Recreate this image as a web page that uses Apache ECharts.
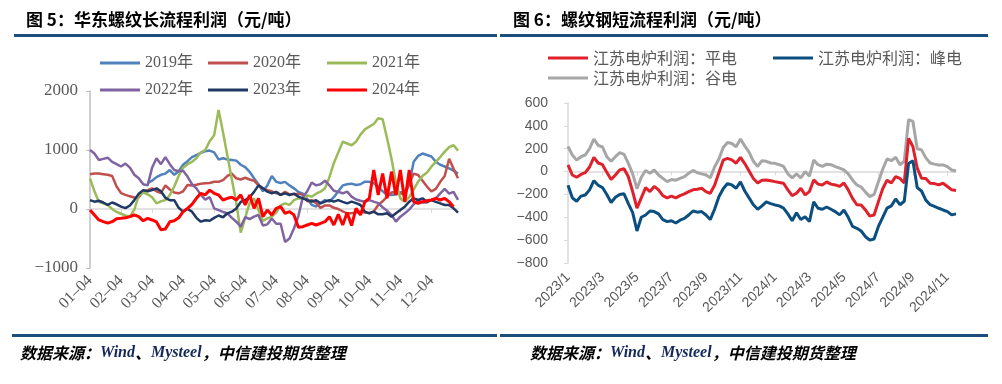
<!DOCTYPE html>
<html><head><meta charset="utf-8">
<script src="https://cdn.jsdelivr.net/npm/echarts@6/dist/echarts.min.js"></script>
<style>html,body{margin:0;padding:0;background:#fff}#c{width:1002px;height:384px}</style>
</head><body><div id="c"></div>
<script>
// ---------- Left chart (图5) ----------
const monthsL = ['01','02','03','04','05','06','07','08','09','10','11','12'];
const daysL = ['04','08','12','16','20','24','28'];
const tickLabelsL = ['01-04','02-04','03-04','04-04','05-04','06-04','07-04','08-04','09-04','10-04','11-04','12-04'];
const categoriesL = [];
monthsL.forEach(m => daysL.forEach(d => categoriesL.push(m + '-' + d)));

const y2019 = [null,null,null,null,null,null,null,null,null,null,null,null,null,
 440,480,540,580,600,660,580,640,750,810,880,915,950,980,990,960,840,860,
 840,830,820,750,710,630,520,420,300,400,560,460,440,460,400,350,290,260,170,70,
 40,100,150,124,200,300,400,420,430,407,420,463,460,435,380,300,240,237,250,280,
 300,420,800,900,940,915,890,800,750,720,690,650,600];
const y2020 = [590,600,600,590,580,560,380,270,240,215,
 195,200,300,320,350,300,270,400,330,280,
 266,300,407,400,410,430,435,440,463,460,
 490,560,600,520,500,530,500,480,400,350,
 320,300,270,240,290,250,250,260,240,130,
 150,100,20,60,60,20,0,-40,-73,-70,
 -60,-45,-60,-70,-40,68,130,210,280,294,
 270,240,420,600,576,480,380,300,340,460,
 560,850,680,520];
const y2021 = [520,300,120,96,68,0,-50,-80,-110,-130,
 -10,230,280,250,200,96,130,150,237,380,
 560,700,760,800,860,960,1000,1150,1250,1680,
 1300,900,500,100,-400,-150,100,180,-20,-200,
 -160,-130,-60,60,96,70,150,181,180,230,
 209,260,294,350,540,780,960,1140,1110,1080,
 1140,1260,1350,1396,1440,1537,1520,1200,850,450,
 180,124,200,330,463,560,620,718,800,880,
 972,1050,1080,990];
const y2022 = [1000,940,830,850,870,800,760,720,770,700,
 580,520,420,400,700,860,760,880,760,660,
 640,650,550,420,350,240,160,200,10,-20,
 -50,-73,-150,-215,-300,-140,-170,-130,-100,-280,
 -260,-160,-250,-250,-560,-500,-330,-120,200,300,
 450,400,420,480,400,310,290,266,294,210,
 160,140,124,150,124,100,30,-30,-100,-215,
 -130,-73,-10,80,140,110,110,153,180,266,
 340,260,290,153];
const y2023 = [150,124,140,110,70,110,80,40,15,60,
 150,260,320,300,320,350,300,190,150,150,
 20,-45,0,-45,-150,-215,-190,-200,-150,-110,
 -140,-73,-45,10,120,153,200,290,400,350,
 294,266,290,240,266,237,260,210,180,150,
 124,150,96,124,150,124,150,120,96,124,
 100,68,-45,-73,-45,-90,-90,-73,-130,-73,
 -17,40,124,181,153,181,124,150,120,96,
 68,68,11,-60];
const y2024 = [-17,-102,-186,-215,-240,-215,-165,-158,-150,-130,
 -102,-130,-200,-160,-186,-220,-350,-340,-215,-200,
 -150,-45,11,80,181,266,240,320,266,237,
 153,181,200,153,240,68,237,11,181,-130,
 -17,-102,11,40,-73,-45,-100,-310,-299,-271,
 -243,-271,-243,-215,-130,-271,-90,-271,-60,-280,
 11,-100,124,181,661,237,600,181,633,237,
 661,124,661,124,96,124,140,153,181,153,
 181,124,40,null];

// ---------- Right chart (图6) ----------
const monthsR = ['2023/1','2023/2','2023/3','2023/4','2023/5','2023/6','2023/7','2023/8','2023/9','2023/10','2023/11','2023/12',
 '2024/1','2024/2','2024/3','2024/4','2024/5','2024/6','2024/7','2024/8','2024/9','2024/10','2024/11'];
const daysR = ['3','10','17','24'];
const tickLabelsR = ['2023/1','2023/3','2023/5','2023/7','2023/9','2023/11','2024/1','2024/3','2024/5','2024/7','2024/9','2024/11'];
const categoriesR = [];
monthsR.forEach(m => daysR.forEach(d => categoriesR.push(m + '/' + d)));
categoriesR.length = 91;

const pingdian = [58,-30,-50,-25,-10,40,125,75,60,-5,
 -70,-30,15,25,-45,-175,-320,-230,-140,-175,
 -130,-160,-210,-230,-215,-230,-210,-195,-175,-160,
 -155,-146,-175,-190,-120,-10,100,115,102,73,
 125,70,5,-60,-100,-75,-73,-80,-88,-95,
 -102,-160,-210,-190,-146,-204,-175,-73,-110,-117,
 -90,-110,-117,-130,-100,-160,-234,-290,-292,-336,
 -390,-380,-263,-150,-75,-100,-44,-60,-100,290,
 220,30,-58,-60,-102,-105,-117,-102,-131,-160,
 -165];
const fengdian = [-120,-230,-260,-215,-205,-160,-80,-120,-140,-200,
 -270,-225,-200,-195,-280,-360,-520,-400,-380,-345,
 -350,-370,-420,-438,-430,-450,-425,-410,-380,-345,
 -355,-350,-380,-420,-330,-220,-150,-105,-117,-146,
 -90,-170,-230,-290,-330,-300,-265,-280,-292,-300,
 -320,-370,-430,-360,-420,-395,-438,-265,-321,-330,
 -310,-330,-350,-379,-336,-400,-480,-496,-520,-570,
 -600,-590,-480,-400,-320,-300,-240,-290,-260,70,
 95,-140,-170,-250,-290,-305,-321,-336,-350,-379,
 -370];
const gudian = [220,145,100,130,145,200,285,230,215,130,
 90,130,165,150,72,-20,-150,-50,10,-15,
 14,-30,-59,-88,-70,-75,-59,-44,-15,10,
 -10,-20,-30,-55,40,110,210,255,245,218,
 285,225,170,90,45,95,90,75,72,60,
 45,-20,-55,-20,-55,0,-40,100,60,45,
 65,60,43,30,14,-20,-73,-117,-135,-180,
 -219,-200,-90,20,110,95,125,60,90,455,
 440,200,190,120,75,65,58,58,43,14,
 5];

// ---------- styling ----------
const CJK = '"Noto Sans CJK SC", sans-serif';
const SERIF = '"Liberation Serif", "Noto Sans CJK SC", serif';
const SANS = '"Liberation Sans", "Noto Sans CJK SC", sans-serif';
const RULE = '#1B4E7C';
const GRAY = '#595959';
const minusFmt = v => String(v).replace('-', '\u2212');

function legendItem(name, left, top, font) {
  return {data: [name], left, top, orient: 'horizontal', padding: 0, itemGap: 0,
    icon: 'rect', itemWidth: 40, itemHeight: 3,
    textStyle: {fontSize: 16, color: GRAY, fontFamily: font}, selectedMode: false};
}
function lineSeries(name, data, color, xi, yi, w) {
  return {name, type: 'line', data, xAxisIndex: xi, yAxisIndex: yi, showSymbol: false,
    symbol: 'none', connectNulls: false, lineStyle: {color, width: w}, itemStyle: {color}};
}

const chart = echarts.init(document.getElementById('c'), null, {renderer: 'canvas'});
chart.setOption({
  animation: false,
  backgroundColor: '#fff',
  grid: [
    {left: 90, top: 91, width: 368, height: 177, outerBoundsMode: 'none'},
    {left: 568, top: 103, width: 388, height: 160, outerBoundsMode: 'none'}
  ],
  legend: [
    legendItem('2019年', 100, 55, SERIF), legendItem('2020年', 208, 55, SERIF), legendItem('2021年', 327, 55, SERIF),
    legendItem('2022年', 100, 82, SERIF), legendItem('2023年', 208, 82, SERIF), legendItem('2024年', 327, 82, SERIF),
    legendItem('江苏电炉利润：平电', 548, 50, CJK), legendItem('江苏电炉利润：峰电', 773, 50, CJK),
    legendItem('江苏电炉利润：谷电', 548, 70, CJK)
  ],
  xAxis: [
    {gridIndex: 0, type: 'category', data: categoriesL, boundaryGap: false,
     axisLine: {show: false, onZero: false}, axisTick: {show: false},
     axisLabel: {interval: (i, v) => tickLabelsL.includes(v), rotate: 45, margin: 10,
       fontSize: 16, color: GRAY, fontFamily: SERIF, formatter: v => v.replace('-', '\u2013')}},
    {gridIndex: 0, type: 'category', data: categoriesL, boundaryGap: false, position: 'bottom',
     axisLine: {show: true, onZero: true, lineStyle: {color: '#d9d9d9', width: 1.5}},
     axisTick: {show: true, interval: (i, v) => tickLabelsL.includes(v), length: 4, lineStyle: {color: '#d9d9d9'}},
     axisLabel: {show: false}},
    {gridIndex: 1, type: 'category', data: categoriesR, boundaryGap: false,
     axisLine: {show: false, onZero: false}, axisTick: {show: false},
     axisLabel: {interval: (i, v) => i % 4 === 0 && tickLabelsR.includes(v.split('/').slice(0, 2).join('/')),
       rotate: 45, margin: 12, fontSize: 14, color: GRAY, fontFamily: SANS,
       formatter: v => v.split('/').slice(0, 2).join('/')}},
    {gridIndex: 1, type: 'category', data: categoriesR, boundaryGap: false, position: 'bottom',
     axisLine: {show: true, onZero: true, lineStyle: {color: '#d9d9d9', width: 1.5}},
     axisTick: {show: true, interval: (i, v) => i % 8 === 0, length: 4, lineStyle: {color: '#d9d9d9'}},
     axisLabel: {show: false}}
  ],
  yAxis: [
    {gridIndex: 0, type: 'value', min: -1000, max: 2000, interval: 1000,
     axisLine: {show: true, lineStyle: {color: '#bfbfbf', width: 1.5}},
     axisTick: {show: true, length: 4, lineStyle: {color: '#bfbfbf'}},
     splitLine: {show: false},
     axisLabel: {fontSize: 17, color: GRAY, fontFamily: SERIF, margin: 12, formatter: minusFmt}},
    {gridIndex: 1, type: 'value', min: -800, max: 600, interval: 200,
     axisLine: {show: true, lineStyle: {color: '#d9d9d9', width: 1.5}},
     axisTick: {show: true, length: 4, lineStyle: {color: '#d9d9d9'}},
     splitLine: {show: false},
     axisLabel: {fontSize: 14, color: GRAY, fontFamily: SANS, margin: 20, formatter: minusFmt}}
  ],
  series: [
    lineSeries('2019年', y2019, '#4F81BD', 0, 0, 2.5),
    lineSeries('2020年', y2020, '#C0504D', 0, 0, 2.5),
    lineSeries('2021年', y2021, '#9BBB59', 0, 0, 2.5),
    lineSeries('2022年', y2022, '#8064A2', 0, 0, 2.5),
    lineSeries('2023年', y2023, '#1F3864', 0, 0, 2.5),
    lineSeries('2024年', y2024, '#FF0000', 0, 0, 3),
    lineSeries('江苏电炉利润：谷电', gudian, '#A6A6A6', 2, 1, 3),
    lineSeries('江苏电炉利润：平电', pingdian, '#E0202A', 2, 1, 3),
    lineSeries('江苏电炉利润：峰电', fengdian, '#0B4F80', 2, 1, 3)
  ],
  graphic: [
    {type: 'text', x: 26, y: 20, style: {text: '图 5：华东螺纹长流程利润（元/吨）', font: 'bold 17px "Noto Sans CJK SC"', fill: '#000', verticalAlign: 'middle'}},
    {type: 'text', x: 513, y: 20, style: {text: '图 6：螺纹钢短流程利润（元/吨）', font: 'bold 17px "Noto Sans CJK SC"', fill: '#000', verticalAlign: 'middle'}},
    {type: 'rect', shape: {x: 14, y: 34, width: 483, height: 3}, style: {fill: RULE}},
    {type: 'rect', shape: {x: 500, y: 34, width: 488, height: 3}, style: {fill: RULE}},
    {type: 'rect', shape: {x: 12, y: 334, width: 485, height: 3}, style: {fill: RULE}},
    {type: 'rect', shape: {x: 500, y: 334, width: 488, height: 3}, style: {fill: RULE}},
    {type: 'text', x: 20, y: 353, style: {text: '{a|数据来源：}{b|Wind}{a|、}{b|Mysteel}{a|，中信建投期货整理}', verticalAlign: 'middle',
      rich: {a: {font: 'italic bold 16px "Noto Sans CJK SC"', fill: '#000'}, b: {font: 'italic bold 16px "Liberation Serif"', fill: '#14285a'}}}},
    {type: 'text', x: 530, y: 353, style: {text: '{a|数据来源：}{b|Wind}{a|、}{b|Mysteel}{a|，中信建投期货整理}', verticalAlign: 'middle',
      rich: {a: {font: 'italic bold 16px "Noto Sans CJK SC"', fill: '#000'}, b: {font: 'italic bold 16px "Liberation Serif"', fill: '#14285a'}}}}
  ]
});
</script></body></html>
